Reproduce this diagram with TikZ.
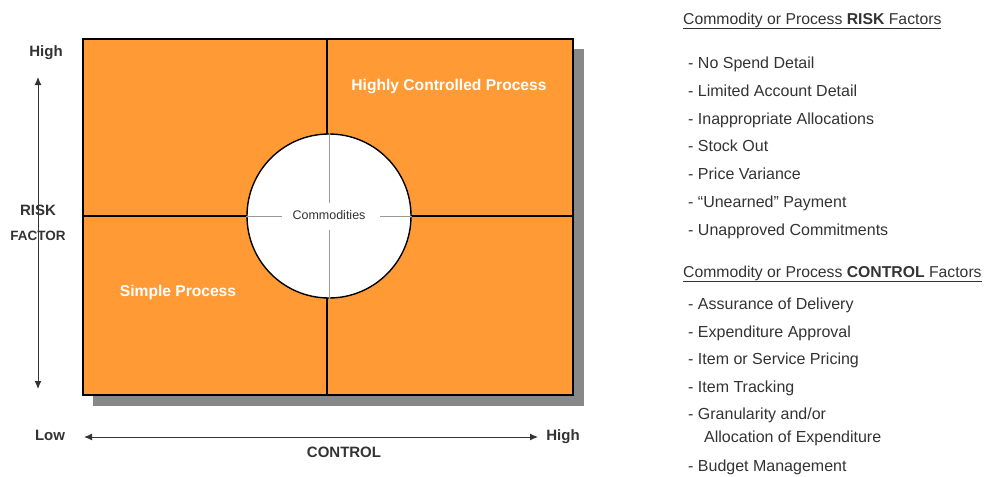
\documentclass[tikz,border=0pt]{standalone}
\usepackage{fontspec}
\setmainfont{Liberation Sans}
\usetikzlibrary{arrows.meta}
\definecolor{quad}{HTML}{FF9A35}
\definecolor{shadowgray}{HTML}{888888}
\definecolor{ink}{HTML}{333333}
\definecolor{cross}{HTML}{999999}
\tikzset{
  quadline/.style={draw=black, line width=1.6pt},
  axisarrow/.style={draw=ink, line width=1pt, {Latex[length=8pt,width=7pt]}-{Latex[length=8pt,width=7pt]}},
  axislabel/.style={text=ink, font=\fontsize{15}{17}\selectfont\bfseries, inner sep=0pt},
  quadlabel/.style={text=white, font=\fontsize{15.6}{18}\selectfont\bfseries, inner sep=0pt},
  listhead/.style={text=ink, font=\fontsize{15.75}{18}\selectfont, anchor=base west, inner sep=0pt},
  listitem/.style={text=ink, font=\fontsize{16}{18}\selectfont, anchor=base west, inner sep=0pt},
}
\newcommand{\hdline}[2]{\underline{#1 \textbf{#2} Factors}}
\begin{document}
\begin{tikzpicture}[x=1pt,y=-1pt]
\useasboundingbox (0,0) rectangle (989,477);
% drop shadow and quadrant field
\fill[shadowgray] (93,49) rectangle (584,406);
\fill[quad] (83,39) rectangle (573,395);
\draw[quadline] (83,39) rectangle (573,395);
\draw[quadline] (327,39) -- (327,395);
\draw[quadline] (83,216) -- (573,216);
% central circle
\node[circle, draw=black, line width=1.4pt, fill=white, minimum size=164pt, inner sep=0pt] (core) at (329,216) {};
\draw[cross, line width=0.8pt] (core.north) -- (329,203) (329,230) -- (core.south);
\draw[cross, line width=0.8pt] (core.west) -- (282,216) (380,216) -- (core.east);
\node[text=ink, font=\fontsize{12.5}{14}\selectfont, inner sep=0pt] (comm) at (329,215) {Commodities};
% quadrant labels
\node[quadlabel] (hcp) at (449,86) {Highly Controlled Process};
\node[quadlabel] (sp) at (178,292) {Simple Process};
% risk axis
\node[axislabel] (rhigh) at (46,53) {High};
\node[axislabel] (risk) at (38,210) {RISK};
\node[axislabel, font=\fontsize{13.5}{15}\selectfont\bfseries] (factor) at (38,236) {FACTOR};
\coordinate (rtop) at (38,77);
\coordinate (rbot) at (38,389);
\draw[axisarrow] (rtop) -- (rbot);
% control axis
\node[axislabel] (clow) at (50,435) {Low};
\node[axislabel] (chigh) at (563,437) {High};
\node[axislabel] (ctrl) at (344,452) {CONTROL};
\coordinate (cleft) at (84,437);
\coordinate (cright) at (538,437);
\draw[axisarrow] (cleft) -- (cright);
% risk factors list
\node[listhead] (h1) at (683,24) {\hdline{Commodity or Process}{RISK}};
\foreach \t [count=\i] in {No Spend Detail, Limited Account Detail, Inappropriate Allocations, Stock Out, Price Variance, ``Unearned'' Payment, Unapproved Commitments}
  \node[listitem] (r\i) at (688,{68.5+27.8*(\i-1)}) {- \t};
% control factors list
\node[listhead] (h2) at (683,277) {\hdline{Commodity or Process}{CONTROL}};
\foreach \t/\y [count=\i] in {Assurance of Delivery/309, Expenditure Approval/337, Item or Service Pricing/364.5, Item Tracking/392, {Granularity and/or}/419.5}
  \node[listitem] (c\i) at (688,\y) {- \t};
\node[listitem] (c6) at (704,442.5) {Allocation of Expenditure};
\node[listitem] (c7) at (688,471) {- Budget Management};
\end{tikzpicture}
\end{document}
